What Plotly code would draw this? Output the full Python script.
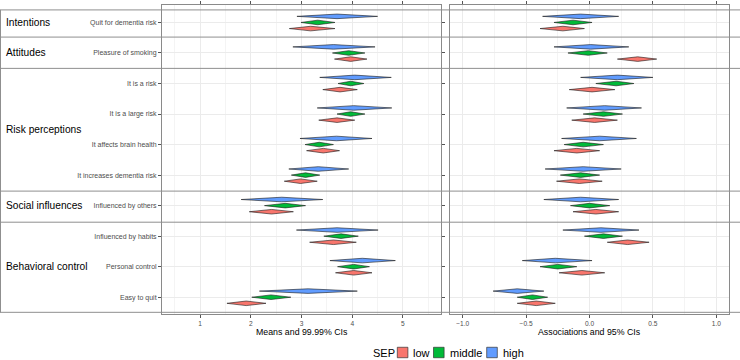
import plotly.graph_objects as go

# ---------------- data ----------------
items = ["Quit for dementia risk", "Pleasure of smoking", "It is a risk", "It is a large risk",
         "It affects brain health", "It increases dementia risk", "Influenced by others",
         "Influenced by habits", "Personal control", "Easy to quit"]
item_group = ["Intentions", "Attitudes", "Risk perceptions", "Risk perceptions",
              "Risk perceptions", "Risk perceptions", "Social influences",
              "Behavioral control", "Behavioral control", "Behavioral control"]
groups = ["Intentions", "Attitudes", "Risk perceptions", "Social influences", "Behavioral control"]

sep_levels = ["low", "middle", "high"]
sep_colors = ["#F8766D", "#00BA38", "#619CFF"]

# Means and 99.99% CIs (left panel)
mean_est = {
    "low":    [3.18, 3.97, 3.76, 3.70, 3.43, 2.98, 2.41, 3.63, 4.03, 1.91],
    "middle": [3.32, 3.93, 3.97, 3.97, 3.35, 3.08, 2.68, 3.78, 4.03, 2.40],
    "high":   [3.70, 3.63, 4.05, 4.03, 3.69, 3.33, 2.61, 3.70, 4.20, 3.13],
}
mean_lo = {
    "low":    [2.76, 3.65, 3.42, 3.34, 3.10, 2.66, 1.97, 3.16, 3.67, 1.53],
    "middle": [2.99, 3.61, 3.72, 3.70, 3.07, 2.80, 2.27, 3.44, 3.71, 2.02],
    "high":   [2.91, 2.83, 3.36, 3.31, 2.97, 2.75, 1.81, 2.90, 3.56, 2.17],
}
mean_hi = {
    "low":    [3.66, 4.29, 4.10, 4.05, 3.75, 3.31, 2.84, 4.08, 4.39, 2.30],
    "middle": [3.66, 4.25, 4.23, 4.25, 3.63, 3.36, 3.08, 4.12, 4.34, 2.79],
    "high":   [4.50, 4.45, 4.77, 4.78, 4.39, 3.93, 3.42, 4.51, 4.85, 4.10],
}

# Associations and 95% CIs (right panel)
assoc_est = {
    "low":    [-0.21, 0.38, 0.02, 0.04, -0.10, -0.08, 0.05, 0.30, -0.06, -0.42],
    "middle": [-0.13, -0.01, 0.21, 0.11, -0.05, -0.07, 0.00, 0.11, -0.25, -0.45],
    "high":   [-0.07, 0.01, 0.22, 0.12, 0.08, -0.05, -0.07, 0.09, -0.27, -0.57],
}
assoc_lo = {
    "low":    [-0.39, 0.22, -0.16, -0.14, -0.28, -0.26, -0.13, 0.14, -0.24, -0.57],
    "middle": [-0.28, -0.17, 0.05, -0.05, -0.20, -0.23, -0.15, -0.04, -0.39, -0.57],
    "high":   [-0.37, -0.28, -0.07, -0.18, -0.22, -0.35, -0.36, -0.21, -0.53, -0.76],
}
assoc_hi = {
    "low":    [-0.04, 0.53, 0.20, 0.22, 0.08, 0.10, 0.23, 0.47, 0.12, -0.27],
    "middle": [0.02, 0.14, 0.35, 0.26, 0.11, 0.08, 0.16, 0.26, -0.10, -0.33],
    "high":   [0.23, 0.31, 0.50, 0.41, 0.37, 0.25, 0.23, 0.39, 0.02, -0.36],
}

x_ticks_left = [1, 2, 3, 4, 5]
x_ticks_right = [-1.0, -0.5, 0.0, 0.5, 1.0]

# ---------------- layout helpers ----------------
W, H = 740, 360
L, R, T, B = 162, 11, 1, 46
PW = W - L - R
PH = H - T - B
FONT = "Liberation Sans, Arial, sans-serif"

def px_x(p):
    return (p - L) / PW

def px_y(p):
    return (H - B - p) / PH

offsets = {"low": 0.2, "middle": 0.0, "high": -0.2}
half_h = 0.075

def diamonds(lo, est, hi, off):
    xs, ys = [], []
    for i in range(len(est)):
        y = i + 1 + off
        xs += [lo[i], est[i], hi[i], est[i], lo[i], None]
        ys += [y, y - half_h, y, y + half_h, y, None]
    return xs, ys

fig = go.Figure()
for lvl, col in zip(sep_levels, sep_colors):
    for (lo, est, hi, xa) in [(mean_lo, mean_est, mean_hi, "x"), (assoc_lo, assoc_est, assoc_hi, "x2")]:
        xs, ys = diamonds(lo[lvl], est[lvl], hi[lvl], offsets[lvl])
        fig.add_trace(go.Scatter(
            x=xs, y=ys, xaxis=xa, yaxis="y", mode="lines", fill="toself",
            fillcolor=col, line=dict(color="#1a1a1a", width=0.6),
            name=lvl, showlegend=False, hoverinfo="skip"))

grid_major = "#EBEBEB"
grid_minor = "#F4F4F4"
tickfont = dict(family=FONT, size=6.6, color="#4D4D4D")

fig.update_layout(
    width=W, height=H, margin=dict(l=L, r=R, t=T, b=B),
    paper_bgcolor="white", plot_bgcolor="white", showlegend=False,
    font=dict(family=FONT),
    xaxis=dict(domain=[0, 279 / PW], range=[0.25, 5.75], tickmode="array",
               tickvals=x_ticks_left, ticktext=[str(v) for v in x_ticks_left],
               showgrid=True, gridcolor=grid_major, gridwidth=1,
               minor=dict(tickmode="linear", tick0=0.5, dtick=0.5, showgrid=True,
                          gridcolor=grid_minor, gridwidth=0.6),
               zeroline=False, showline=True, mirror="all", linecolor="#8a8a8a", linewidth=1,
               ticks="outside", ticklen=3, tickcolor="#555555", tickwidth=0.8,
               tickfont=tickfont, anchor="y"),
    xaxis2=dict(domain=[288 / PW, 1], range=[-1.1, 1.1], tickmode="array",
                tickvals=x_ticks_right, ticktext=[f"{v:.1f}".replace("-", "\u2212") for v in x_ticks_right],
                showgrid=True, gridcolor=grid_major, gridwidth=1,
                minor=dict(tickmode="linear", tick0=-1.0, dtick=0.25, showgrid=True,
                           gridcolor=grid_minor, gridwidth=0.6),
                zeroline=False, showline=True, mirror="all", linecolor="#8a8a8a", linewidth=1,
                ticks="outside", ticklen=3, tickcolor="#555555", tickwidth=0.8,
                tickfont=tickfont, anchor="y"),
    yaxis=dict(range=[10.55, 0.428], tickmode="array", tickvals=list(range(1, len(items) + 1)),
               ticktext=items, showgrid=True, gridcolor=grid_major, gridwidth=1,
               zeroline=False, showline=True, mirror="all", linecolor="#8a8a8a", linewidth=1,
               ticks="outside", ticklen=3, tickcolor="#555555", tickwidth=0.8,
               tickfont=dict(family=FONT, size=7, color="#4D4D4D"), anchor="x"),
)

# group separator lines and label box edge
sep_y = [0.589, 1.479, 2.504, 6.524, 7.543, 10.495]
for yv in sep_y:
    fig.add_shape(type="line", xref="paper", yref="y", x0=px_x(0), x1=px_x(W), y0=yv, y1=yv,
                  line=dict(color="#8f8f8f", width=1), layer="above")
fig.add_shape(type="line", xref="paper", yref="y", x0=px_x(0.5), x1=px_x(0.5),
              y0=sep_y[0], y1=sep_y[-1], line=dict(color="#8f8f8f", width=1), layer="above")

# group labels
for g in groups:
    rows = [i + 1 for i, gg in enumerate(item_group) if gg == g]
    fig.add_annotation(text=g, xref="paper", yref="y", x=px_x(4), y=sum(rows) / len(rows),
                       xanchor="left", yanchor="middle", showarrow=False,
                       font=dict(family=FONT, size=10.2, color="black"))

# axis titles
fig.add_annotation(text="Means and 99.99% CIs", xref="paper", yref="paper",
                   x=px_x(301.5), y=px_y(332), xanchor="center", yanchor="middle",
                   showarrow=False, font=dict(family=FONT, size=8.8, color="black"))
fig.add_annotation(text="Associations and 95% CIs", xref="paper", yref="paper",
                   x=px_x(589.5), y=px_y(332), xanchor="center", yanchor="middle",
                   showarrow=False, font=dict(family=FONT, size=8.8, color="black"))

# legend (drawn manually, ggplot style)
ly = 353
fig.add_annotation(text="SEP", xref="paper", yref="paper", x=px_x(370.6), y=px_y(ly),
                   xanchor="left", yanchor="middle", showarrow=False,
                   font=dict(family=FONT, size=11, color="black"))
key_x = [397.3, 433.5, 486.7]
for lvl, col, kx in zip(sep_levels, sep_colors, key_x):
    fig.add_shape(type="rect", xref="paper", yref="paper", x0=px_x(kx), x1=px_x(kx + 10.6),
                  y0=px_y(ly + 5.3), y1=px_y(ly - 5.3), fillcolor=col,
                  line=dict(color="#333333", width=0.7))
    fig.add_annotation(text=lvl, xref="paper", yref="paper", x=px_x(kx + 14), y=px_y(ly),
                       xanchor="left", yanchor="middle", showarrow=False,
                       font=dict(family=FONT, size=11, color="black"))

fig.write_html("out.html")
